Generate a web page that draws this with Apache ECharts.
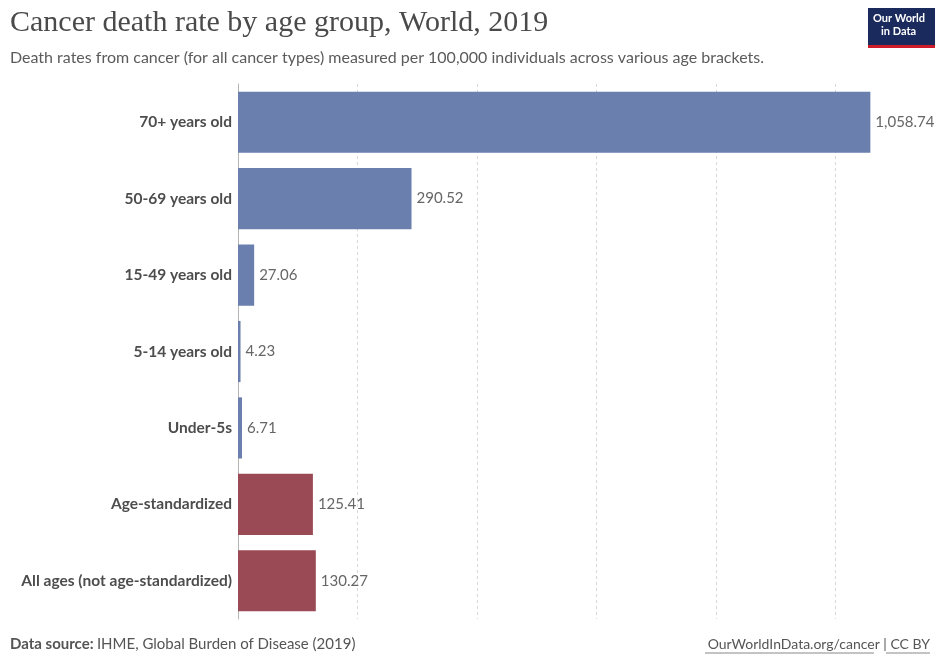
<!DOCTYPE html>
<html><head><meta charset="utf-8">
<script src="https://cdn.jsdelivr.net/npm/echarts@6/dist/echarts.min.js"></script>
<style>html,body{margin:0;padding:0;background:#fff}#c{width:939px;height:655px}</style>
</head><body><div id="c"></div>
<script>
const categories = ["70+ years old","50-69 years old","15-49 years old","5-14 years old","Under-5s","Age-standardized","All ages (not age-standardized)"];
const values = [1058.74, 290.52, 27.06, 4.23, 6.71, 125.41, 130.27];
const barColors = ["#6a7fad","#6a7fad","#6a7fad","#6a7fad","#6a7fad","#9a4a55","#9a4a55"];

const chart = echarts.init(document.getElementById('c'));
const fmt = v => v.toLocaleString('en-US',{minimumFractionDigits:2,maximumFractionDigits:2});
chart.setOption({
  animation:false,
  backgroundColor:'#fff',
  title:[{
    text:'Cancer death rate by age group, World, 2019',
    left:5, top:3,
    textStyle:{fontFamily:'Liberation Serif',fontSize:30,fontWeight:'normal',color:'#4a4a4a'}
  },{
    text:'Death rates from cancer (for all cancer types) measured per 100,000 individuals across various age brackets.',
    left:5, top:45,
    textStyle:{fontFamily:'Lato',fontSize:16,fontWeight:'normal',color:'#5b5b5b'}
  }],
  grid:{left:238,right:44,top:84,bottom:36,containLabel:false},
  xAxis:{type:'value',min:0,max:1100,interval:200,
    axisLabel:{show:false},axisTick:{show:false},axisLine:{show:false},
    splitLine:{show:true,showMinLine:false,showMaxLine:false,lineStyle:{type:[3,3],color:'#d8d8d8'}}},
  yAxis:{type:'category',data:categories,inverse:true,
    axisTick:{show:false},
    axisLine:{show:true,lineStyle:{color:'#b5b5b5',width:1}},
    axisLabel:{fontFamily:'Lato',fontSize:15.5,fontWeight:'bold',color:'#4d4d4d',margin:6}},
  series:[{type:'bar',data:values.map((v,i)=>({value:v,itemStyle:{color:barColors[i]}})),
    barCategoryGap:'20%',
    label:{show:true,position:'right',distance:5,fontFamily:'Lato',fontSize:15,color:'#666',
      formatter:p=>fmt(p.value)}}],
  graphic:[
    {type:'rect',left:868,top:8,shape:{width:67,height:37},style:{fill:'#1b2a5c'}},
    {type:'rect',left:868,top:45,shape:{width:67,height:3},style:{fill:'#ce1b2c'}},
    {type:'text',left:873,top:12,style:{text:'Our World\n   in Data',fill:'#fff',font:'bold 11px Lato',lineHeight:13}},
    {type:'text',left:10,top:637,style:{
      text:'{b|Data source:} {n|IHME, Global Burden of Disease (2019)}',
      rich:{b:{fontFamily:'Lato',fontSize:15,fontWeight:'bold',fill:'#555'},n:{fontFamily:'Lato',fontSize:15,fill:'#555'}}}},
    {type:'text',right:9,top:637,style:{text:'OurWorldInData.org/cancer | CC BY',fill:'#555',font:'14px Lato'}},
    {type:'line',shape:{x1:705,y1:653,x2:874,y2:653},style:{stroke:'#888',lineWidth:1}},
    {type:'line',shape:{x1:886,y1:653,x2:930,y2:653},style:{stroke:'#888',lineWidth:1}}
  ]
});
</script></body></html>
